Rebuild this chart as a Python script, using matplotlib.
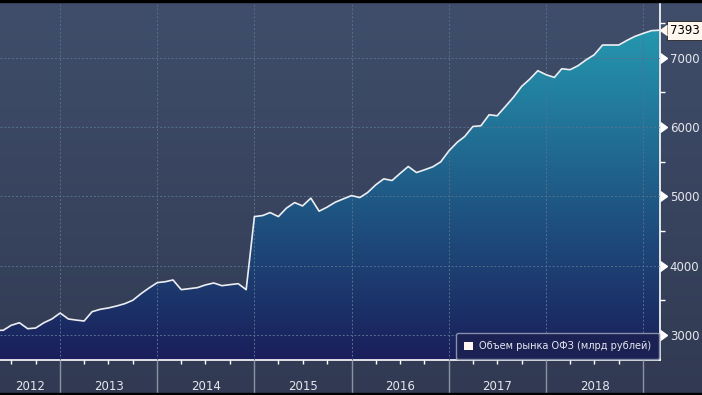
import numpy as np
import pandas as pd
import matplotlib
matplotlib.use("Agg")
import matplotlib.pyplot as plt
import matplotlib.dates as mdates
import matplotlib.transforms as mtransforms
from matplotlib.colors import LinearSegmentedColormap
from matplotlib.patches import Polygon, Patch, Rectangle

# monthly volume of the OFZ market, bn rub
start_month = "2012-05-01"
ofz_volume = [3068, 3068, 3140, 3177, 3091, 3101, 3177, 3231, 3317, 3231,
              3216, 3202, 3336, 3371, 3390, 3418, 3452, 3501, 3596, 3678,
              3755, 3769, 3794, 3654, 3668, 3683, 3722, 3750, 3711, 3726,
              3740, 3654, 4707, 4722, 4765, 4707, 4828, 4909, 4861, 4973,
              4785, 4843, 4915, 4962, 5010, 4981, 5053, 5165, 5251, 5227,
              5328, 5429, 5342, 5381, 5424, 5496, 5655, 5778, 5861, 6006,
              6016, 6175, 6160, 6294, 6430, 6583, 6690, 6810, 6752, 6713,
              6838, 6824, 6882, 6968, 7040, 7180, 7180, 7180, 7247, 7305,
              7348, 7387, 7393]
year_labels = ["2012", "2013", "2014", "2015", "2016", "2017", "2018"]
y_ticks = [3000, 4000, 5000, 6000, 7000]
series_name = "Объем рынка ОФЗ (млрд рублей)"

dates = pd.date_range(start_month, periods=len(ofz_volume), freq="MS")
x = mdates.date2num(dates)
y = np.array(ofz_volume, dtype=float)

x_left = mdates.date2num(pd.Timestamp("2012-05-20"))
x_right = mdates.date2num(pd.Timestamp("2019-03-05"))
y_bottom, y_top = 2640, 7800

txt_color = "#e6e8ee"

fig = plt.figure(figsize=(7.02, 3.95), dpi=100)
fig.patch.set_facecolor("#333d55")

# background gradient for the whole panel
bg = fig.add_axes([0, 0, 1, 1], zorder=-1)
bg_cmap = LinearSegmentedColormap.from_list("bg", ["#313a52", "#404e6b"])
bg.imshow(np.linspace(0, 1, 256).reshape(-1, 1), cmap=bg_cmap, aspect="auto",
          origin="lower", extent=[0, 1, 0, 1])
bg.axis("off")

ax = fig.add_axes([0, 35 / 395, 660 / 702, 358 / 395])
ax.set_facecolor("none")

# gradient area fill clipped to the series
fill_cmap = LinearSegmentedColormap.from_list("fill", ["#1a1e5a", "#1f5a86", "#2597af"])
im = ax.imshow(np.linspace(0, 1, 256).reshape(-1, 1), cmap=fill_cmap, aspect="auto",
               origin="lower", extent=[x_left, x_right, y_bottom, y.max()], zorder=1)
verts = np.vstack([np.column_stack([x, y]), [[x[-1], y_bottom], [x[0], y_bottom]]])
clip = Polygon(verts, closed=True, transform=ax.transData, facecolor="none", edgecolor="none")
ax.add_patch(clip)
im.set_clip_path(clip)
ax.set_xlim(x_left, x_right)
ax.set_ylim(y_bottom, y_top)

ax.plot(x, y, color="#eceef4", lw=1.2, zorder=3)

# grid
ax.set_axisbelow(False)
ax.grid(True, which="major", color="#54708f", ls=(0, (2, 2)), lw=0.7)

# spines
for s in ["top", "left"]:
    ax.spines[s].set_visible(False)
for s in ["right", "bottom"]:
    ax.spines[s].set_color("white")
    ax.spines[s].set_linewidth(1.2)

# x axis: year separators and quarter ticks
ax.xaxis.set_major_locator(mdates.YearLocator())
ax.xaxis.set_minor_locator(mdates.MonthLocator(bymonth=[4, 7, 10]))
ax.tick_params(axis="x", which="major", length=24, width=1, color="#8a92a4",
               labelbottom=False)
ax.tick_params(axis="x", which="minor", length=3, width=1, color="white")

for lab in year_labels:
    y0 = mdates.date2num(pd.Timestamp(f"{lab}-01-01"))
    y1 = mdates.date2num(pd.Timestamp(f"{int(lab) + 1}-01-01"))
    xc = (max(y0, x_left) + min(y1, x_right)) / 2
    ax.text(xc, -26 / 358, lab, transform=ax.get_xaxis_transform(),
            ha="center", va="center", fontsize=8.5, color=txt_color)

# y axis on the right
ax.yaxis.tick_right()
ax.set_yticks(y_ticks)
ax.set_yticks(np.array(y_ticks) + 500, minor=True)
ax.tick_params(axis="y", which="major", length=0, pad=7, labelsize=8.5,
               labelcolor=txt_color)
ax.tick_params(axis="y", which="minor", length=3.5, width=1, color="white")
ax.plot(np.ones(len(y_ticks)), y_ticks, transform=ax.get_yaxis_transform(),
        ls="none", marker=9, ms=6.5, color="white", clip_on=False, zorder=4)

# last value tag
ax.annotate(f"{ofz_volume[-1]}", xy=(1, y[-1]), xycoords=ax.get_yaxis_transform(),
            xytext=(7.5, 0), textcoords="offset points", ha="left", va="center",
            fontsize=8.5, color="black", annotation_clip=False,
            bbox=dict(boxstyle="square,pad=0.25", fc="#fff6ee", ec="#222222", lw=0.6))
tag_tr = mtransforms.offset_copy(ax.get_yaxis_transform(), fig, x=5.0, units="points")
ax.plot([1], [y[-1]], transform=tag_tr, marker=8, ms=6.5, color="#fff6ee",
        ls="none", clip_on=False, zorder=5)

leg = ax.legend(handles=[Patch(facecolor="#fff6f4", edgecolor="none", label=series_name)],
                loc="lower right", borderaxespad=0.1, fontsize=7.0, labelcolor=txt_color,
                facecolor="#1b2153", edgecolor="#8890a8", framealpha=1,
                handlelength=1.0, handleheight=1.0, handletextpad=0.6, borderpad=0.8)
leg.set_zorder(6)

# thin black frame strips
fig.patches.append(Rectangle((0, 1 - 2 / 395), 1, 2 / 395, transform=fig.transFigure,
                             color="black", zorder=10))
fig.patches.append(Rectangle((0, 0), 1, 2 / 395, transform=fig.transFigure,
                             color="black", zorder=10))

fig.savefig("out.png", dpi=100)
